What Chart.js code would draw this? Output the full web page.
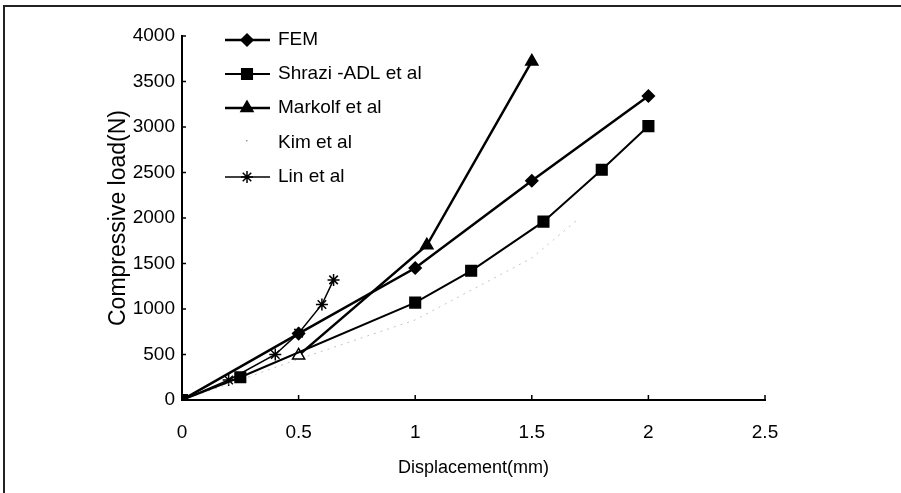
<!DOCTYPE html>
<html>
<head>
<meta charset="utf-8">
<script src="https://cdn.jsdelivr.net/npm/chart.js@4.4.1/dist/chart.umd.min.js"></script>
<style>
html, body { margin: 0; padding: 0; background: #fff; }
#wrap { position: relative; width: 901px; height: 493px; }
#frame { position: absolute; left: 3px; top: 5px; right: 0; bottom: 0; border-top: 2px solid #222; border-left: 2px solid #222; pointer-events: none; }
</style>
</head>
<body>
<div id="wrap"><canvas id="chart" width="901" height="493"></canvas><div id="frame"></div></div>
<script>
var xTicks = [0, 0.5, 1, 1.5, 2, 2.5];
var xTickLabels = ['0', '0.5', '1', '1.5', '2', '2.5'];
var yTicks = [0, 500, 1000, 1500, 2000, 2500, 3000, 3500, 4000];

var seriesNames = ['FEM', 'Shrazi -ADL et al', 'Markolf et al', 'Kim et al', 'Lin et al'];

var femX = [0, 0.5, 1, 1.5, 2];
var femY = [0, 730, 1450, 2410, 3340];

var shraziX = [0, 0.25, 1, 1.24, 1.55, 1.8, 2];
var shraziY = [0, 250, 1070, 1420, 1960, 2530, 3010];

var markolfX = [0.5, 1.05, 1.5];
var markolfY = [490, 1700, 3720];

var kimX = [0, 0.25, 0.5, 1, 1.5, 1.7];
var kimY = [0, 220, 450, 880, 1560, 1990];

var linX = [0, 0.2, 0.4, 0.5, 0.6, 0.65];
var linY = [0, 220, 500, 735, 1050, 1320];

var sans = "'Liberation Sans', Arial, sans-serif";

function pts(xs, ys) {
    return xs.map(function(x, i) { return { x: x, y: ys[i] }; });
}

var styles = [
    { lw: 2.5, color: '#000', ps: 'rectRot', r: 6, fill: '#000' },
    { lw: 2, color: '#000', ps: 'rect', r: 7.5, fill: '#000' },
    { lw: 2.5, color: '#000', ps: 'triangle', r: 7, fill: '#000' },
    { lw: 1, color: '#c4c4c4', ps: 'circle', r: 0, fill: '#c4c4c4', dash: [2, 5] },
    { lw: 1.5, color: '#000', ps: 'star', r: 6, fill: '#000' }
];
var seriesData = [pts(femX, femY), pts(shraziX, shraziY), pts(markolfX, markolfY), pts(kimX, kimY), pts(linX, linY)];

var datasets = seriesNames.map(function(name, i) {
    var s = styles[i];
    return {
        label: name,
        data: seriesData[i],
        showLine: true,
        tension: 0,
        borderColor: s.color,
        borderWidth: s.lw,
        borderDash: s.dash || [],
        pointStyle: s.ps,
        pointRadius: s.r,
        pointBackgroundColor: i === 2 ? ['#fff', '#000', '#000'] : s.fill,
        pointBorderColor: s.color,
        pointBorderWidth: 1.5
    };
});

// little inward tick marks on both axes
var innerTicks = {
    id: 'innerTicks',
    afterDraw: function(chart) {
        var ctx = chart.ctx, a = chart.chartArea;
        var xs = chart.scales.x, ys = chart.scales.y;
        ctx.save();
        ctx.strokeStyle = '#000';
        ctx.lineWidth = 1.5;
        ctx.beginPath();
        yTicks.forEach(function(v) {
            var py = ys.getPixelForValue(v);
            ctx.moveTo(a.left, py); ctx.lineTo(a.left + 4, py);
        });
        xTicks.forEach(function(v) {
            var px = xs.getPixelForValue(v);
            ctx.moveTo(px, a.bottom); ctx.lineTo(px, a.bottom - 5);
        });
        ctx.stroke();
        ctx.restore();
    }
};

// legend: short line with the marker, then the name
var legendBox = {
    id: 'legendBox',
    afterDraw: function(chart) {
        var ctx = chart.ctx;
        var rows = [40, 74, 108, 143, 177];
        ctx.save();
        ctx.font = '19px ' + sans;
        ctx.textBaseline = 'middle';
        ctx.fillStyle = '#000';
        seriesNames.forEach(function(name, i) {
            var s = styles[i], y = rows[i];
            if (i !== 3) {
                ctx.strokeStyle = s.color;
                ctx.lineWidth = s.lw;
                ctx.beginPath();
                ctx.moveTo(225, y); ctx.lineTo(270, y);
                ctx.stroke();
                ctx.fillStyle = s.fill;
                ctx.strokeStyle = s.color;
                ctx.lineWidth = 1.5;
                Chart.helpers.drawPoint(ctx, { pointStyle: s.ps, radius: s.r, rotation: 0, borderWidth: 1.5 }, 247, y);
            } else {
                ctx.fillStyle = '#999';
                ctx.fillRect(246, y - 3, 1.5, 1.5);
            }
            ctx.fillStyle = '#000';
            ctx.fillText(name, 278, y);
        });
        ctx.restore();
    }
};

new Chart(document.getElementById('chart'), {
    type: 'scatter',
    data: { datasets: datasets },
    options: {
        responsive: false,
        animation: false,
        devicePixelRatio: 1,
        layout: { padding: { left: 0, right: 136, top: 36, bottom: 0 } },
        plugins: { legend: { display: false }, tooltip: { enabled: false } },
        scales: {
            x: {
                type: 'linear',
                min: 0,
                max: 2.5,
                afterBuildTicks: function(scale) { scale.ticks = xTicks.map(function(v) { return { value: v }; }); },
                afterFit: function(scale) { scale.height = 93; },
                ticks: {
                    padding: 21,
                    color: '#000',
                    font: { family: sans, size: 19 },
                    callback: function(v) { return xTickLabels[xTicks.indexOf(v)]; }
                },
                grid: { drawOnChartArea: false, drawTicks: false },
                border: { color: '#000', width: 2 },
                title: { display: true, text: 'Displacement(mm)', color: '#000', font: { family: sans, size: 18 }, padding: { top: 0, bottom: 14 } }
            },
            y: {
                type: 'linear',
                min: 0,
                max: 4000,
                afterBuildTicks: function(scale) { scale.ticks = yTicks.map(function(v) { return { value: v }; }); },
                afterFit: function(scale) { scale.width = 182; },
                ticks: {
                    padding: 7,
                    color: '#000',
                    font: { family: sans, size: 19 },
                    callback: function(v) { return String(v); }
                },
                grid: { drawOnChartArea: false, drawTicks: false },
                border: { color: '#000', width: 2 },
                title: { display: true, text: 'Compressive load(N)', color: '#000', font: { family: sans, size: 23 }, padding: { top: 105, bottom: 0 } }
            }
        }
    },
    plugins: [innerTicks, legendBox]
});
</script>
</body>
</html>
